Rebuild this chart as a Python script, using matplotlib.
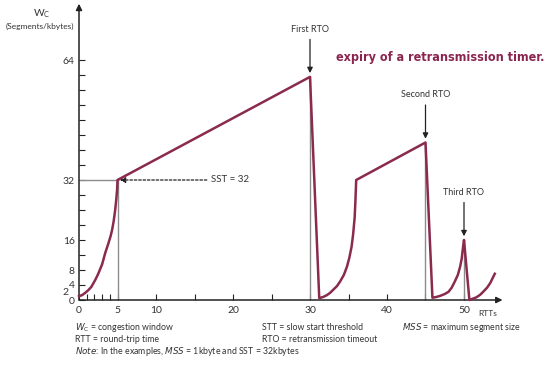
import matplotlib
matplotlib.use("Agg")
import matplotlib.pyplot as plt

# congestion window trace (RTTs vs segments)
rtt = [0, 0.4, 0.8, 1.2, 1.6, 2.1, 2.5, 3.0, 3.4, 3.8, 4.1, 4.3, 4.5, 4.7,
       4.85, 4.95, 5,
       30,
       31.2, 31.7, 32.2, 32.6, 33, 33.5, 33.9, 34.4, 34.8, 35.1, 35.4, 35.6,
       35.8, 35.9, 36,
       45,
       45.9, 46.4, 46.9, 47.5, 48, 48.4, 48.8, 49.2, 49.5, 49.7, 49.9, 50,
       50.7, 51.2, 51.6, 52.1, 52.5, 53, 53.4, 54]
cwnd = [1, 1.3, 1.9, 2.6, 3.5, 5.3, 7, 9.5, 12.5, 15, 17, 18.7, 21, 24,
        27, 29.5, 32,
        59.5,
        0.5, 0.8, 1.3, 1.9, 2.7, 3.7, 4.9, 6.7, 8.9, 11.2, 14.2, 17.5,
        22, 26.5, 32,
        42,
        0.6, 0.8, 1.1, 1.6, 2.2, 3.3, 4.9, 6.7, 8.9, 11, 14.5, 16,
        0.0, 0.4, 0.7, 1.4, 2.2, 3.3, 4.5, 7]

# timeouts
rto_x = [30, 45, 50]
rto_y = [59.5, 42, 16]
rto_names = ["First RTO", "Second RTO", "Third RTO"]
sst = 32

y_ticks = list(range(0, 65, 4))
y_labels = {0: "0", 4: "4", 8: "8", 16: "16", 32: "32", 64: "64"}
x_ticks = list(range(0, 51, 5))
x_labels = {0: "0", 5: "5", 10: "10", 20: "20", 30: "30", 40: "40", 50: "50"}

curve_col = "#8a2a4e"
guide_col = "#8c8c8c"
txt_col = "#333333"
plt.rcParams["font.family"] = ["Lato", "DejaVu Sans"]

fig = plt.figure(figsize=(5.48, 3.65), dpi=100)
ax = fig.add_axes([79 / 548, 65 / 365, 423.5 / 548, 296.25 / 365])
ax.set_xlim(0, 55)
ax.set_ylim(0, 79)
for s in ax.spines.values():
    s.set_visible(False)

# axes with arrows
ax.annotate("", xy=(0, 79), xytext=(0, 0),
            arrowprops=dict(arrowstyle="-|>", color="#222222", lw=1.1,
                            mutation_scale=9, shrinkA=0, shrinkB=0),
            annotation_clip=False)
ax.annotate("", xy=(55, 0), xytext=(0, 0),
            arrowprops=dict(arrowstyle="-|>", color="#222222", lw=1.1,
                            mutation_scale=9, shrinkA=0, shrinkB=0),
            annotation_clip=False)

ax.set_yticks(y_ticks)
ax.set_yticklabels([y_labels.get(v, "") for v in y_ticks])
ax.set_xticks(x_ticks)
ax.set_xticklabels([x_labels.get(v, "") for v in x_ticks])
ax.set_xticks([1, 2, 3, 4], minor=True)
ax.tick_params(axis="both", which="both", direction="in", length=4,
               width=0.8, colors="#222222", labelsize=7.5,
               labelcolor=txt_col)
ax.tick_params(axis="x", pad=4)
ax.tick_params(axis="y", pad=3)
ax.text(-1.4, 2, "2", ha="right", va="center", fontsize=7.5, color=txt_col)

# guide lines
ax.plot([0, 5], [sst, sst], color=guide_col, lw=1)
ax.plot([5, 5], [0, sst], color=guide_col, lw=1)
for xv, yv in zip(rto_x, rto_y):
    ax.plot([xv, xv], [0, yv], color=guide_col, lw=1)

ax.plot(rtt, cwnd, color=curve_col, lw=1.8, solid_joinstyle="round",
        clip_on=False, zorder=5)

# RTO markers
for xv, yv, name in zip(rto_x, rto_y, rto_names):
    ax.annotate("", xy=(xv, yv + 1), xytext=(xv, yv + 10),
                arrowprops=dict(arrowstyle="-|>", color="#222222", lw=0.9,
                                mutation_scale=8, shrinkA=0, shrinkB=0))
    ax.text(xv, yv + 11.5, name, ha="center", va="bottom", fontsize=6.5,
            color=txt_col)

ax.annotate("", xy=(5.3, sst), xytext=(16.6, sst),
            arrowprops=dict(arrowstyle="-|>", color="#222222", lw=0.9,
                            linestyle=(0, (2, 1.5)), mutation_scale=8,
                            shrinkA=0, shrinkB=0))
ax.text(17.2, sst, "SST = 32", ha="left", va="center", fontsize=7,
        color=txt_col)

# labels
fig.text(33 / 548, 1 - 14 / 365, r"W$_\mathregular{C}$", ha="left",
         va="center", fontsize=7.5, color=txt_col)
fig.text(40 / 548, 1 - 26 / 365, "(Segments/kbytes)", ha="center",
         va="center", fontsize=6, color=txt_col)
fig.text(488 / 548, 1 - 313 / 365, "RTTs", ha="center", va="center",
         fontsize=6, color=txt_col)

# bleed-through heading, squeezed to the width it takes in the scan
head = fig.text(336 / 548, 1 - 58 / 365, "expiry of a retransmission timer.",
                ha="left", va="center", fontsize=9.5, fontweight="bold",
                fontstretch="condensed", color="#8b2550",
                family=["DejaVu Sans"])
fig.canvas.draw()
w = head.get_window_extent().width
if w > 208:
    head.set_fontsize(9.5 * 208 / w)

fs = 6.3
fig.text(75 / 548, 1 - 328 / 365,
         r"$\mathit{W}_\mathregular{C}$ = congestion window",
         ha="left", va="center", fontsize=fs, color=txt_col)
fig.text(75 / 548, 1 - 340 / 365, "RTT = round-trip time",
         ha="left", va="center", fontsize=fs, color=txt_col)
fig.text(75 / 548, 1 - 352 / 365,
         r"$\mathit{Note}$: In the examples, $\mathit{MSS}$ = 1kbyte and SST = 32kbytes",
         ha="left", va="center", fontsize=fs, color=txt_col)
fig.text(262 / 548, 1 - 328 / 365, "STT = slow start threshold",
         ha="left", va="center", fontsize=fs, color=txt_col)
fig.text(262 / 548, 1 - 340 / 365, "RTO = retransmission timeout",
         ha="left", va="center", fontsize=fs, color=txt_col)
fig.text(402 / 548, 1 - 328 / 365,
         r"$\mathit{MSS}$ = maximum segment size",
         ha="left", va="center", fontsize=fs, color=txt_col)

fig.savefig("out.png", dpi=100)
